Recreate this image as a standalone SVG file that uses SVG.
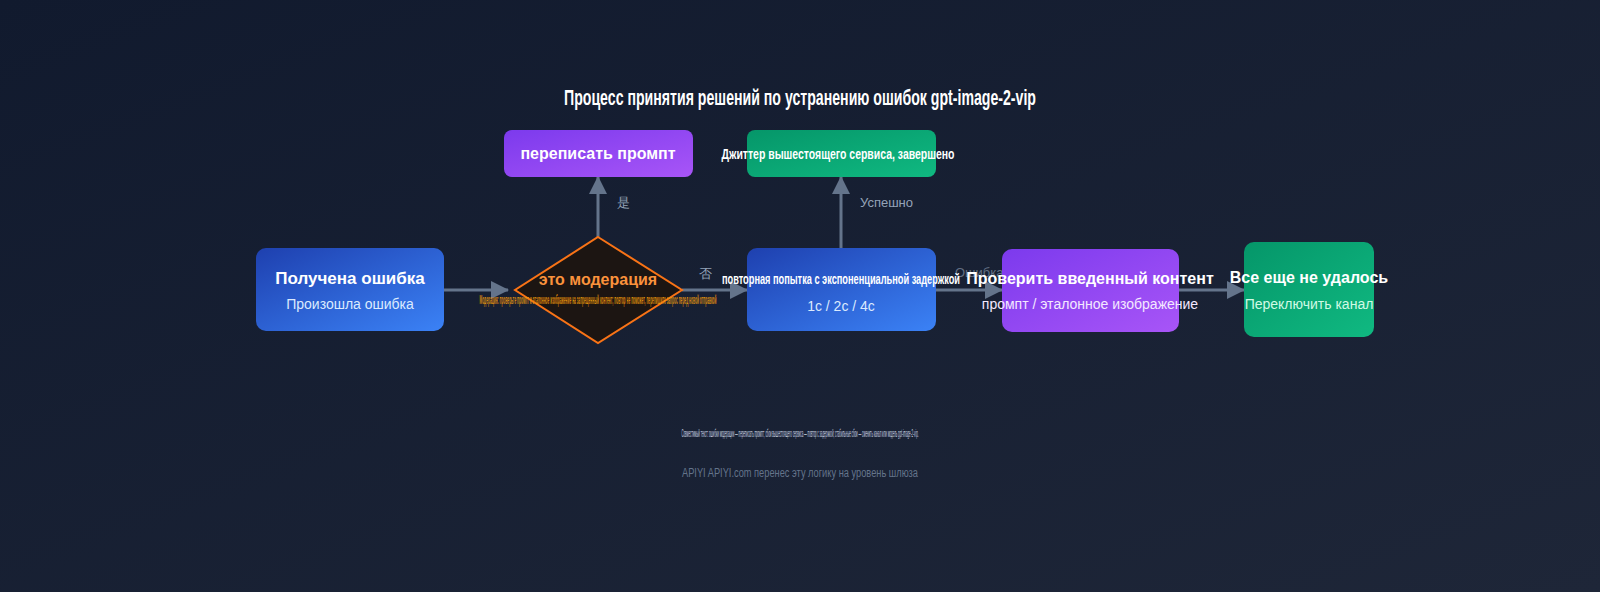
<svg xmlns="http://www.w3.org/2000/svg" width="1600" height="592" viewBox="0 0 1600 592">
<defs>
<linearGradient id="bg" x1="0" y1="0" x2="1" y2="1"><stop offset="0" stop-color="#111a2e"/><stop offset="1" stop-color="#1e2638"/></linearGradient>
<linearGradient id="gBlue" x1="0" y1="0" x2="1" y2="1"><stop offset="0" stop-color="#1e40af"/><stop offset="1" stop-color="#3b82f6"/></linearGradient>
<linearGradient id="gPurple" x1="0" y1="0" x2="1" y2="1"><stop offset="0" stop-color="#7c3aed"/><stop offset="1" stop-color="#a855f7"/></linearGradient>
<linearGradient id="gGreen" x1="0" y1="0" x2="1" y2="1"><stop offset="0" stop-color="#059669"/><stop offset="1" stop-color="#10b981"/></linearGradient>
<marker id="arrBig" viewBox="0 0 18 18" markerWidth="18" markerHeight="18" refX="17" refY="9" orient="auto" markerUnits="userSpaceOnUse"><path d="M0,0 L18,9 L0,18 Z" fill="#64748b"/></marker>
</defs>
<style>
.t{font-family:"Liberation Sans",Arial,sans-serif;}
.h{font-weight:bold;fill:#ffffff;}
.s{fill:#dbeafe;font-size:14px;}
.lbl{fill:#94a3b8;font-size:13px;}
.con{stroke:#64748b;stroke-width:3;fill:none;}
</style>
<rect width="1600" height="592" fill="url(#bg)"/>
<text class="t h" x="800" y="105" font-size="22" text-anchor="middle" textLength="472" lengthAdjust="spacingAndGlyphs">Процесс принятия решений по устранению ошибок gpt-image-2-vip</text>

<g id="connectors">
<line class="con" x1="444" y1="290" x2="508" y2="290" marker-end="url(#arrBig)"/>
<line class="con" x1="598" y1="237" x2="598" y2="177" marker-end="url(#arrBig)"/>
<line class="con" x1="682" y1="290" x2="747" y2="290" marker-end="url(#arrBig)"/>
<line class="con" x1="841" y1="248" x2="841" y2="177" marker-end="url(#arrBig)"/>
<line class="con" x1="936" y1="290" x2="1002" y2="290" marker-end="url(#arrBig)"/>
<line class="con" x1="1179" y1="290" x2="1244" y2="290" marker-end="url(#arrBig)"/>
<text class="t lbl" x="617" y="207">是</text>
<text class="t lbl" x="860" y="207">Успешно</text>
<text class="t lbl" x="699" y="278">否</text>
<text class="t lbl" x="955" y="277" opacity="0.6">Ошибка</text>
</g>

<g id="node-received">
<rect x="256" y="248" width="188" height="83" rx="10" fill="url(#gBlue)"/>
<text class="t h" x="350" y="284" font-size="17" text-anchor="middle">Получена ошибка</text>
<text class="t s" x="350" y="309" text-anchor="middle">Произошла ошибка</text>
</g>

<g id="node-moderation">
<polygon points="598,237 682,290 598,343 515,290" fill="#1c1512" stroke="#f97316" stroke-width="2"/>
<text class="t" x="598" y="285" font-size="16" font-weight="bold" fill="#fb923c" text-anchor="middle">это модерация</text>
<text class="t" x="598" y="304" font-size="12" font-weight="bold" fill="#f59e0b" opacity="0.85" text-anchor="middle" textLength="237" lengthAdjust="spacingAndGlyphs">Модерация: проверьте промпт и эталонное изображение на запрещенный контент; повтор не поможет, перепишите запрос перед новой отправкой</text>
</g>

<g id="node-rewrite">
<rect x="504" y="130" width="189" height="47" rx="8" fill="url(#gPurple)"/>
<text class="t h" x="598" y="159" font-size="16" text-anchor="middle">переписать промпт</text>
</g>

<g id="node-retry">
<rect x="747" y="248" width="189" height="83" rx="10" fill="url(#gBlue)"/>
<text class="t h" x="841" y="284" font-size="14" text-anchor="middle" textLength="238" lengthAdjust="spacingAndGlyphs">повторная попытка с экспоненциальной задержкой</text>
<text class="t s" x="841" y="311" font-size="15" text-anchor="middle">1с / 2с / 4с</text>
</g>

<g id="node-jitter">
<rect x="747" y="130" width="189" height="47" rx="8" fill="url(#gGreen)"/>
<text class="t h" x="838" y="159" font-size="14" text-anchor="middle" textLength="233" lengthAdjust="spacingAndGlyphs">Джиттер вышестоящего сервиса, завершено</text>
</g>

<g id="node-check">
<rect x="1002" y="249" width="177" height="83" rx="10" fill="url(#gPurple)"/>
<text class="t h" x="1090" y="284" font-size="16" text-anchor="middle">Проверить введенный контент</text>
<text class="t s" x="1090" y="309" text-anchor="middle" style="fill:#f3e8ff">промпт / эталонное изображение</text>
</g>

<g id="node-fail">
<rect x="1244" y="242" width="130" height="95" rx="10" fill="url(#gGreen)"/>
<text class="t h" x="1309" y="283" font-size="16" text-anchor="middle">Все еще не удалось</text>
<text class="t s" x="1309" y="309" text-anchor="middle" style="fill:#d1fae5">Переключить канал</text>
</g>

<text class="t" x="800" y="437" font-size="11" fill="#cbd5e1" text-anchor="middle" textLength="237" lengthAdjust="spacingAndGlyphs">Совместимый текст: ошибки модерации — переписать промпт; сбои вышестоящего сервиса — повтор с задержкой; стабильные сбои — сменить канал или модель gpt-image-2-vip.</text>
<text class="t" x="800" y="477" font-size="12" fill="#64748b" text-anchor="middle" textLength="236" lengthAdjust="spacingAndGlyphs">APIYI APIYI.com перенес эту логику на уровень шлюза</text>
</svg>
